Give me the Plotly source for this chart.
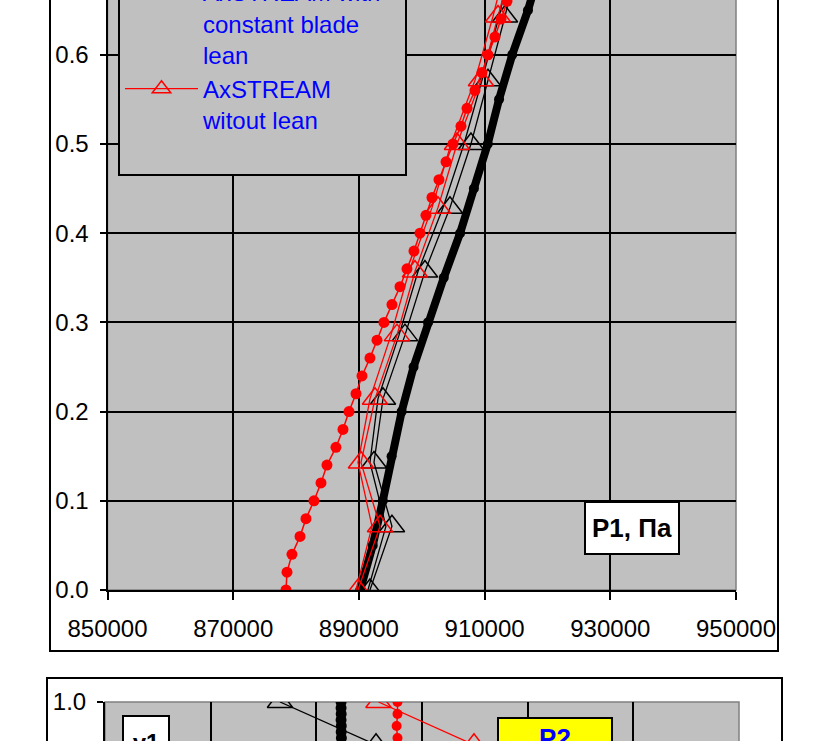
import plotly.graph_objects as go

W, H = 823, 741
FONT = "Liberation Sans, Arial, sans-serif"

# ---------------- top chart (P1) data ----------------
blk_thick_y = [0.00, 0.05, 0.10, 0.15, 0.20, 0.25, 0.30, 0.35, 0.40, 0.45, 0.50, 0.55, 0.60, 0.65, 0.70]
blk_thick_x = [890200, 892200, 893800, 895200, 896800, 898700, 901000, 903500, 906100, 908300,
               910500, 912300, 914400, 916900, 919000]

red_dot_y = [0.00, 0.02, 0.04, 0.06, 0.08, 0.10, 0.12, 0.14, 0.16, 0.18, 0.20, 0.22, 0.24, 0.26,
             0.28, 0.30, 0.32, 0.34, 0.36, 0.38, 0.40, 0.42, 0.44, 0.46, 0.48, 0.50, 0.52, 0.54,
             0.56, 0.58, 0.60, 0.62, 0.64, 0.66, 0.68]
red_dot_x = [878400, 878560, 879350, 880630, 881580, 882850, 883970, 884920, 886350, 887470,
             888420, 889540, 890490, 891760, 892880, 893990, 895260, 896540, 897650, 898760,
             899720, 900670, 901630, 902740, 903860, 904970, 906240, 907200, 908470, 909580,
             910540, 911650, 912610, 913560, 914670]

tri_y = [0.0, 0.0714, 0.1429, 0.2143, 0.2857, 0.3571, 0.4286, 0.5, 0.5714, 0.6429, 0.7143]
blk_tri_x = [891760, 895260, 892400, 893830, 897330, 900510, 904490, 907830, 910540, 913240, 915630]
red_tri_x = [889860, 893360, 890330, 892560, 896060, 898920, 902580, 905600, 909420, 912130, 914830]
blk_line2_x = [891440, 894300, 891760, 893030, 896380, 899400, 903380, 906720, 909580, 912290, 914670]
red_line2_x = [889540, 892080, 889860, 891760, 895100, 897970, 901630, 904650, 908470, 911330, 913880]

x1_ticks = [850000, 870000, 890000, 910000, 930000, 950000]

# ---------------- bottom chart (P2) data ----------------
b_tri_y = [1.0, 0.9286]
b_blk_tri_x = [796560, 805650]
b_red_tri_x = [805880, 814920]
b_blk_dot_y = [1.0, 0.99, 0.98, 0.97, 0.96, 0.95, 0.94, 0.93]
b_blk_dot_x = [802340, 802340, 802350, 802340, 802360, 802350, 802370, 802380]
b_red_dot_y = [1.0, 0.98, 0.96, 0.94, 0.92]
b_red_dot_x = [807680, 807680, 807600, 807680, 807750]

NB = "\u00a0"
name_blk = "AxSTREAM with<br>constant blade" + NB * 6 + "<br>lean"
name_red = "AxSTREAM<br>witout lean<br>" + NB

def px(xp):
    return xp / W

def py(yp):
    return 1 - yp / H

fig = go.Figure()

# top chart traces
fig.add_trace(go.Scatter(x=blk_thick_x, y=blk_thick_y, mode="lines+markers",
                         line=dict(color="black", width=8),
                         marker=dict(symbol="circle", size=10, color="black"),
                         showlegend=False, xaxis="x", yaxis="y"))
fig.add_trace(go.Scatter(x=blk_line2_x, y=tri_y, mode="lines",
                         line=dict(color="black", width=1.3),
                         showlegend=False, xaxis="x", yaxis="y"))
fig.add_trace(go.Scatter(x=blk_tri_x, y=tri_y, mode="lines+markers", name=name_blk,
                         line=dict(color="black", width=1.3),
                         marker=dict(symbol="triangle-up-open", size=22, color="black",
                                     line=dict(width=1.5, color="black")),
                         xaxis="x", yaxis="y"))
fig.add_trace(go.Scatter(x=red_dot_x, y=red_dot_y, mode="lines+markers",
                         line=dict(color="red", width=1.5),
                         marker=dict(symbol="circle", size=11, color="red"),
                         showlegend=False, xaxis="x", yaxis="y"))
fig.add_trace(go.Scatter(x=red_line2_x, y=tri_y, mode="lines",
                         line=dict(color="red", width=1.3),
                         showlegend=False, xaxis="x", yaxis="y"))
fig.add_trace(go.Scatter(x=red_tri_x, y=tri_y, mode="lines+markers", name=name_red,
                         line=dict(color="red", width=1.3),
                         marker=dict(symbol="triangle-up-open", size=22, color="red",
                                     line=dict(width=1.5, color="red")),
                         xaxis="x", yaxis="y"))

# bottom chart traces
fig.add_trace(go.Scatter(x=b_blk_dot_x, y=b_blk_dot_y, mode="lines+markers",
                         line=dict(color="black", width=2),
                         marker=dict(symbol="circle", size=11, color="black"),
                         showlegend=False, xaxis="x2", yaxis="y2"))
fig.add_trace(go.Scatter(x=b_blk_tri_x, y=b_tri_y, mode="lines+markers",
                         line=dict(color="black", width=1.3),
                         marker=dict(symbol="triangle-up-open", size=22, color="black",
                                     line=dict(width=1.5, color="black")),
                         showlegend=False, xaxis="x2", yaxis="y2"))
fig.add_trace(go.Scatter(x=b_red_dot_x, y=b_red_dot_y, mode="lines+markers",
                         line=dict(color="red", width=1.5),
                         marker=dict(symbol="circle", size=10, color="red"),
                         showlegend=False, xaxis="x2", yaxis="y2"))
fig.add_trace(go.Scatter(x=b_red_tri_x, y=b_tri_y, mode="lines+markers",
                         line=dict(color="red", width=1.3),
                         marker=dict(symbol="triangle-up-open", size=22, color="red",
                                     line=dict(width=1.5, color="red")),
                         showlegend=False, xaxis="x2", yaxis="y2"))

tickfont = dict(family=FONT, size=24, color="black")
common = dict(showline=True, linecolor="black", linewidth=2, ticks="outside",
              tickcolor="black", tickwidth=1.5, tickfont=tickfont, zeroline=False,
              fixedrange=True)

shapes = [
    # plot-area borders (grey)
    dict(type="rect", xref="paper", yref="paper", x0=px(107.5), x1=px(736), y0=py(590), y1=1.1,
         line=dict(color="#808080", width=1.5), layer="below"),
    dict(type="rect", xref="paper", yref="paper", x0=px(105), x1=px(739), y0=-0.1, y1=py(702),
         line=dict(color="#808080", width=1.5), layer="below"),
    # chart frames
    dict(type="rect", xref="paper", yref="paper", x0=px(50), x1=px(778), y0=py(651), y1=1.1,
         line=dict(color="black", width=2)),
    dict(type="rect", xref="paper", yref="paper", x0=px(47), x1=px(782), y0=-0.1, y1=py(678),
         line=dict(color="black", width=2)),
]

annotations = [
    dict(text="<b>P1, Па</b>", x=px(680), y=py(555), xref="paper", yref="paper",
         showarrow=False, font=dict(family=FONT, size=26, color="black"),
         bgcolor="white", bordercolor="black", borderwidth=2, borderpad=2,
         width=88, height=46),
    dict(text="<b>y1</b>", x=px(146), y=py(715), xref="paper", yref="paper",
         xanchor="center", yanchor="top", showarrow=False,
         font=dict(family=FONT, size=24, color="black"),
         bgcolor="white", bordercolor="black", borderwidth=2, borderpad=2,
         width=40, height=46),
    dict(text="<b>P2</b>", x=px(555), y=py(717), xref="paper", yref="paper",
         xanchor="center", yanchor="top", showarrow=False,
         font=dict(family=FONT, size=26, color="#0000ff"),
         bgcolor="#ffff00", bordercolor="black", borderwidth=2, borderpad=1,
         width=110, height=36),
]

fig.update_layout(
    width=W, height=H,
    margin=dict(l=0, r=0, t=0, b=0, pad=0, autoexpand=False),
    paper_bgcolor="white", plot_bgcolor="#c0c0c0",
    font=dict(family=FONT, size=24, color="black"),
    xaxis=dict(domain=[px(107.5), px(736)], range=[850000, 950000], tickvals=x1_ticks,
               tickformat="d", ticklen=8, ticklabelstandoff=8, showgrid=True,
               gridcolor="black", gridwidth=1.8, anchor="y", **common),
    yaxis=dict(domain=[py(590), 1.0], range=[0, 0.6614], dtick=0.1, tick0=0,
               tickformat=".1f", ticklen=6, ticklabelstandoff=6, showgrid=True,
               gridcolor="black", gridwidth=1.8, anchor="x", **common),
    xaxis2=dict(domain=[px(105), px(739)], range=[780000, 840000], dtick=10000, tick0=780000,
                showgrid=True, gridcolor="black", gridwidth=1.8, showline=False,
                ticks="", showticklabels=False, zeroline=False, anchor="y2", fixedrange=True),
    yaxis2=dict(domain=[0, py(702)], range=[0.935, 1.0], dtick=0.1, tick0=0,
                tickformat=".1f", ticklen=6, ticklabelstandoff=6, showgrid=False,
                anchor="x2", **common),
    showlegend=True,
    legend=dict(x=px(118), y=py(176), xanchor="left", yanchor="bottom",
                bgcolor="#c0c0c0", bordercolor="black", borderwidth=2,
                font=dict(family=FONT, size=24, color="#0000ff"),
                itemwidth=73, valign="top", tracegroupgap=0, traceorder="normal"),
    shapes=shapes, annotations=annotations,
)

fig.write_html("out.html", config={"displayModeBar": False},
               post_script="document.body.style.margin='0';")
